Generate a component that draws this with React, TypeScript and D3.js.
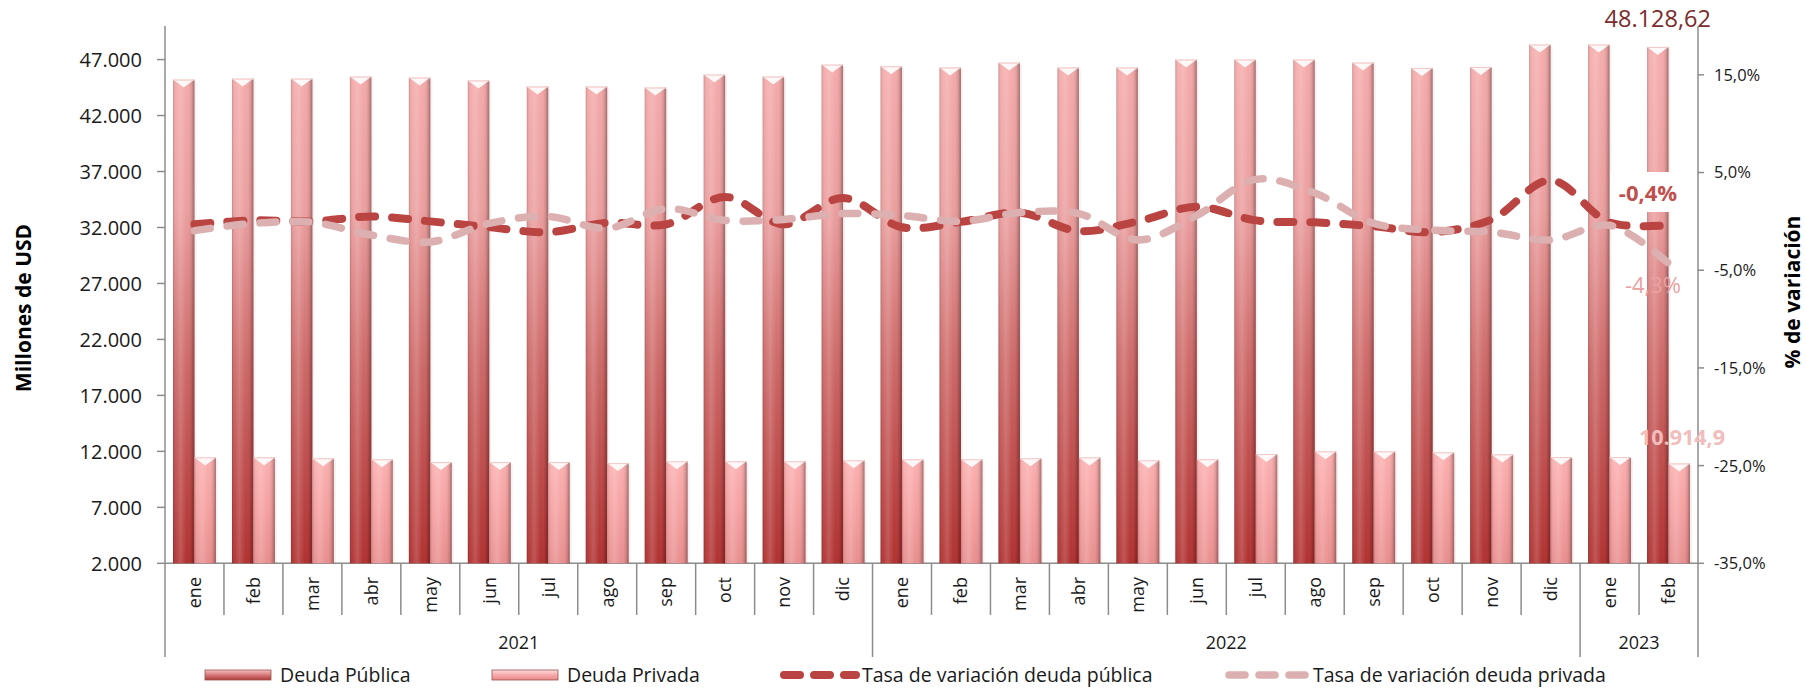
import React, { useRef, useEffect } from 'react';
import * as d3 from 'd3';

// meses y años del eje de categorías
const meses = ['ene', 'feb', 'mar', 'abr', 'may', 'jun', 'jul', 'ago', 'sep', 'oct', 'nov', 'dic',
  'ene', 'feb', 'mar', 'abr', 'may', 'jun', 'jul', 'ago', 'sep', 'oct', 'nov', 'dic',
  'ene', 'feb'];
const anios = ['2021', '2022', '2023'];
const mesesPorAnio = [12, 12, 2];

// millones de USD
const deudaPublica = [45210, 45300, 45300, 45480, 45390, 45130, 44590, 44590, 44500, 45660, 45480, 46550,
  46400, 46290, 46730, 46290, 46290, 47000, 47000, 47000, 46730, 46250, 46340, 48340,
  48340, 48128.62];
const deudaPrivada = [11460, 11460, 11380, 11290, 11040, 11040, 11040, 10950, 11110, 11110, 11110, 11200,
  11290, 11290, 11380, 11460, 11200, 11290, 11760, 12000, 12000, 11910, 11730, 11490,
  11490, 10914.9];

// % de variación
const tasaPublica = [-0.3, 0.1, 0.0, 0.5, 0.0, -0.6, -1.1, -0.15, -0.3, 2.5, -0.3, 2.4,
  -0.6, -0.05, 0.9, -1.0, 0.0, 1.5, 0.1, -0.1, -0.5, -1.1, 0.2, 4.2,
  -0.1, -0.4];
const tasaPrivada = [-0.95, -0.2, -0.1, -1.4, -2.1, -0.2, 0.5, -0.7, 1.3, 0.1, 0.2, 0.8,
  0.6, 0.0, 0.9, 0.8, -1.9, 0.6, 4.3, 2.9, -0.2, -0.9, -1.1, -1.9,
  -0.4, -4.3];

const ticksUSD = [2000, 7000, 12000, 17000, 22000, 27000, 32000, 37000, 42000, 47000];
const ticksPct = [-35, -25, -15, -5, 5, 15];

const FONT = '"Open Sans", "Noto Sans", sans-serif';

const es = d3.formatLocale({ decimal: ',', thousands: '.', grouping: [3], currency: ['', ''], minus: '-' });

export default function App() {
  const svgRef = useRef<SVGSVGElement>(null);

  useEffect(() => {
    if (!svgRef.current) return;
    const svg = d3.select(svgRef.current);
    svg.selectAll('*').remove();

    const left = 165, right = 1698, top = 26, bottom = 563.3;
    const n = meses.length;
    const idx = d3.range(n);

    const x = d3.scaleBand<number>().domain(idx).range([left, right]);
    const bw = x.bandwidth();
    const x1 = d3.scaleBand<string>().domain(['pub', 'priv']).range([8, bw - 8]);
    const y = d3.scaleLinear().domain([2000, 50000]).range([bottom, top]);
    const y2 = d3.scaleLinear().domain([-35, 20]).range([bottom, top]);

    // gradientes
    const defs = svg.append('defs');
    const gPub = defs.append('linearGradient').attr('id', 'gPub')
      .attr('gradientUnits', 'userSpaceOnUse').attr('x1', 0).attr('x2', 0).attr('y1', 60).attr('y2', bottom);
    [[0, '#f5abab'], [0.3, '#eb9e9e'], [0.6, '#cd6968'], [1, '#b0302f']].forEach(([o, c]) =>
      gPub.append('stop').attr('offset', o as number).attr('stop-color', c as string));
    const gPriv = defs.append('linearGradient').attr('id', 'gPriv')
      .attr('x1', 0).attr('x2', 0).attr('y1', 0).attr('y2', 1);
    [[0, '#fbb0b0'], [0.5, '#f59f9f'], [1, '#e88e8e']].forEach(([o, c]) =>
      gPriv.append('stop').attr('offset', o as number).attr('stop-color', c as string));
    const gSide = defs.append('linearGradient').attr('id', 'gSide')
      .attr('x1', 0).attr('x2', 1).attr('y1', 0).attr('y2', 0);
    [[0, '#000', 0.18], [0.12, '#fff', 0.05], [0.35, '#fff', 0.18], [0.65, '#fff', 0], [0.88, '#000', 0.12], [1, '#401010', 0.4]]
      .forEach(([o, c, a]) => gSide.append('stop').attr('offset', o as number)
        .attr('stop-color', c as string).attr('stop-opacity', a as number));
    const gLeg = defs.append('linearGradient').attr('id', 'gLeg')
      .attr('x1', 0).attr('x2', 0).attr('y1', 0).attr('y2', 1);
    [[0, '#f6c0c0'], [0.5, '#d77878'], [1, '#b03a3a']].forEach(([o, c]) =>
      gLeg.append('stop').attr('offset', o as number).attr('stop-color', c as string));
    const gLeg2 = defs.append('linearGradient').attr('id', 'gLeg2')
      .attr('x1', 0).attr('x2', 0).attr('y1', 0).attr('y2', 1);
    [[0, '#fde0e0'], [0.5, '#f6a8a8'], [1, '#e88a8a']].forEach(([o, c]) =>
      gLeg2.append('stop').attr('offset', o as number).attr('stop-color', c as string));

    // ejes
    const axisColor = '#8c8c8c';
    const ax = svg.append('g');
    ax.append('line').attr('x1', left).attr('x2', left).attr('y1', top).attr('y2', 657)
      .attr('stroke', axisColor).attr('stroke-width', 1.5);
    ax.append('line').attr('x1', right).attr('x2', right).attr('y1', top).attr('y2', 657)
      .attr('stroke', axisColor).attr('stroke-width', 1.5);
    ax.append('line').attr('x1', left).attr('x2', right).attr('y1', bottom).attr('y2', bottom)
      .attr('stroke', axisColor).attr('stroke-width', 1.5);

    ticksUSD.forEach(t => {
      ax.append('line').attr('x1', left - 8).attr('x2', left).attr('y1', y(t)).attr('y2', y(t))
        .attr('stroke', axisColor).attr('stroke-width', 1.5);
      ax.append('text').attr('x', 142).attr('y', y(t)).attr('dy', '0.36em')
        .attr('text-anchor', 'end').attr('font-family', FONT).attr('font-size', 20).attr('fill', '#1a1a1a')
        .text(es.format(',')(t));
    });
    ticksPct.forEach(t => {
      ax.append('line').attr('x1', right).attr('x2', right + 6).attr('y1', y2(t)).attr('y2', y2(t))
        .attr('stroke', axisColor).attr('stroke-width', 1.5);
      ax.append('text').attr('x', 1714).attr('y', y2(t)).attr('dy', '0.36em')
        .attr('text-anchor', 'start').attr('font-family', FONT).attr('font-size', 16.5).attr('fill', '#1a1a1a')
        .text(es.format('.1f')(t) + '%');
    });

    // separadores de categoría y años
    let acc = 0;
    const bordesAnio = [0];
    mesesPorAnio.forEach(m => { acc += m; bordesAnio.push(acc); });
    idx.slice(1).forEach(i => {
      if (bordesAnio.includes(i)) return;
      ax.append('line').attr('x1', x(i)!).attr('x2', x(i)!).attr('y1', bottom).attr('y2', 615)
        .attr('stroke', axisColor).attr('stroke-width', 1.5);
    });
    bordesAnio.slice(1, -1).forEach(i => {
      ax.append('line').attr('x1', x(i)!).attr('x2', x(i)!).attr('y1', bottom).attr('y2', 657)
        .attr('stroke', axisColor).attr('stroke-width', 1.5);
    });
    idx.forEach(i => {
      ax.append('text')
        .attr('transform', `translate(${x(i)! + bw / 2},577) rotate(-90)`)
        .attr('dy', '0.35em').attr('text-anchor', 'end')
        .attr('font-family', FONT).attr('font-size', 18).attr('fill', '#1a1a1a')
        .text(meses[i]);
    });
    anios.forEach((a, k) => {
      const cx = (x(bordesAnio[k])! + (bordesAnio[k + 1] < n ? x(bordesAnio[k + 1])! : right)) / 2;
      ax.append('text').attr('x', cx).attr('y', 643).attr('dy', '0.35em').attr('text-anchor', 'middle')
        .attr('font-family', FONT).attr('font-size', 18).attr('fill', '#1a1a1a').text(a);
    });

    // títulos de ejes
    svg.append('text').attr('transform', 'translate(31,308) rotate(-90)').attr('text-anchor', 'middle')
      .attr('font-family', FONT).attr('font-weight', 'bold').attr('font-size', 21).attr('fill', '#000')
      .text('Millones de USD');
    svg.append('text').attr('transform', 'translate(1800,292) rotate(-90)').attr('text-anchor', 'middle')
      .attr('font-family', FONT).attr('font-weight', 'bold').attr('font-size', 21).attr('fill', '#000')
      .text('% de variación');

    // barras
    const drawBar = (g: d3.Selection<SVGGElement, unknown, null, undefined>, bx: number, by: number, w: number, fill: string) => {
      g.append('rect').attr('x', bx + 2).attr('y', by + 2).attr('width', w).attr('height', bottom - by - 2)
        .attr('fill', '#000').attr('opacity', 0.05);
      g.append('rect').attr('x', bx).attr('y', by).attr('width', w).attr('height', bottom - by).attr('fill', fill);
      g.append('rect').attr('x', bx).attr('y', by).attr('width', w).attr('height', bottom - by).attr('fill', 'url(#gSide)');
      g.append('path').attr('d', `M${bx},${by}L${bx + w},${by}L${bx + w / 2},${by + 8}Z`)
        .attr('fill', '#fff').attr('opacity', 0.9);
      g.append('line').attr('x1', bx).attr('x2', bx + w).attr('y1', by + 0.5).attr('y2', by + 0.5)
        .attr('stroke', '#f3c6c6').attr('stroke-width', 1);
    };
    const bars = svg.append('g');
    idx.forEach(i => {
      drawBar(bars, x(i)! + x1('pub')!, y(deudaPublica[i]), x1.bandwidth(), 'url(#gPub)');
      drawBar(bars, x(i)! + x1('priv')!, y(deudaPrivada[i]), x1.bandwidth(), 'url(#gPriv)');
    });

    // líneas de variación
    const line = d3.line<number>()
      .x((_, i) => x(i)! + bw / 2)
      .y(d => y2(d))
      .curve(d3.curveCatmullRom.alpha(0.5));
    svg.append('path').attr('d', line(tasaPublica) || '').attr('fill', 'none')
      .attr('stroke', '#b94442').attr('stroke-width', 8).attr('stroke-linecap', 'round')
      .attr('stroke-dasharray', '16 17');
    svg.append('path').attr('d', line(tasaPrivada) || '').attr('fill', 'none')
      .attr('stroke', '#dcb0b0').attr('stroke-width', 7.5).attr('stroke-linecap', 'round')
      .attr('stroke-dasharray', '16 17');

    // etiquetas del último dato
    const last = n - 1;
    const cxPub = x(last)! + x1('pub')! + x1.bandwidth() / 2;
    svg.append('text').attr('x', cxPub).attr('y', 19).attr('dy', '0.35em').attr('text-anchor', 'middle')
      .attr('font-family', FONT).attr('font-size', 23.5).attr('fill', '#7b2c2c')
      .text(es.format(',.2f')(deudaPublica[last]));
    svg.append('text').attr('x', 1682).attr('y', 437.5).attr('dy', '0.35em').attr('text-anchor', 'middle')
      .attr('font-family', FONT).attr('font-weight', 'bold').attr('font-size', 21.5).attr('fill', '#f0bcbc')
      .text(es.format(',.1f')(deudaPrivada[last]));
    svg.append('rect').attr('x', 1610).attr('y', 172).attr('width', 83).attr('height', 40).attr('fill', '#fff');
    svg.append('text').attr('x', 1648).attr('y', 193).attr('dy', '0.35em').attr('text-anchor', 'middle')
      .attr('font-family', FONT).attr('font-weight', 'bold').attr('font-size', 22).attr('fill', '#c0504d')
      .text(es.format('.1f')(tasaPublica[last]) + '%');
    svg.append('text').attr('x', 1653).attr('y', 285).attr('dy', '0.35em').attr('text-anchor', 'middle')
      .attr('font-family', FONT).attr('font-size', 22).attr('fill', '#e8a2a2')
      .text(es.format('.1f')(tasaPrivada[last]) + '%');

    // leyenda
    const lg = svg.append('g');
    const ly = 675;
    const swatch = (sx: number, fill: string) => {
      lg.append('rect').attr('x', sx).attr('y', ly - 5).attr('width', 66).attr('height', 10).attr('fill', fill);
      lg.append('rect').attr('x', sx).attr('y', ly - 5).attr('width', 66).attr('height', 10)
        .attr('fill', 'none').attr('stroke', '#9a5252').attr('stroke-width', 0.8);
    };
    const legText = (tx: number, t: string) => lg.append('text').attr('x', tx).attr('y', ly).attr('dy', '0.35em')
      .attr('font-family', FONT).attr('font-size', 19.5).attr('fill', '#1a1a1a').text(t);
    swatch(205, 'url(#gLeg)');
    legText(280, 'Deuda Pública');
    swatch(492, 'url(#gLeg2)');
    legText(567, 'Deuda Privada');
    lg.append('line').attr('x1', 784).attr('x2', 856).attr('y1', ly).attr('y2', ly)
      .attr('stroke', '#b94442').attr('stroke-width', 8).attr('stroke-linecap', 'round').attr('stroke-dasharray', '16 14');
    legText(862, 'Tasa de variación deuda pública');
    lg.append('line').attr('x1', 1229).attr('x2', 1305).attr('y1', ly).attr('y2', ly)
      .attr('stroke', '#dcb0b0').attr('stroke-width', 7.5).attr('stroke-linecap', 'round').attr('stroke-dasharray', '16 14');
    legText(1313, 'Tasa de variación deuda privada');
  }, []);

  return (
    <div style={{ position: 'absolute', left: 0, top: 0, width: 1806, height: 690, background: '#fff' }}>
      <svg ref={svgRef} width={1806} height={690} />
    </div>
  );
}
